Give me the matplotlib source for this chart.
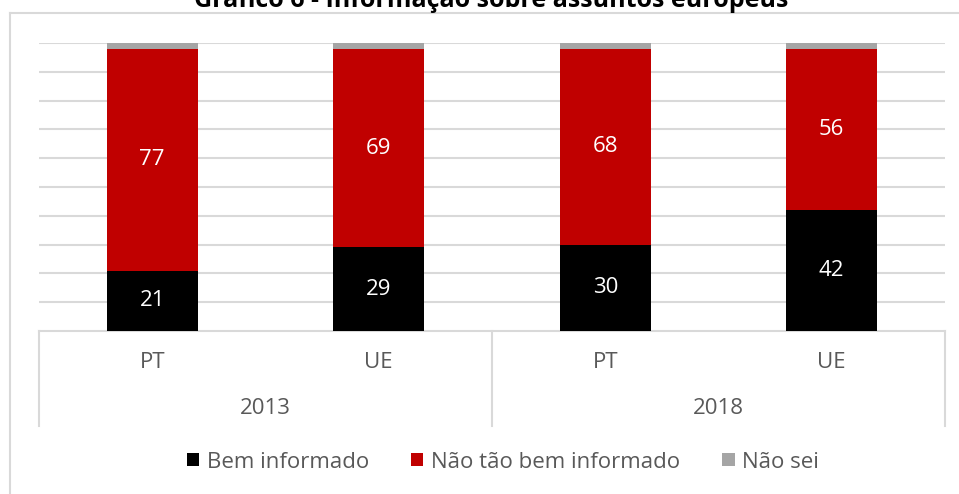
import matplotlib.pyplot as plt
import matplotlib.transforms as mtransforms
from matplotlib.lines import Line2D

plt.rcParams['font.family'] = ['Open Sans', 'DejaVu Sans']

# data
countries = ['PT', 'UE', 'PT', 'UE']
years = ['2013', '2018']
bem_informado = [21, 29, 30, 42]
nao_tao_bem = [77, 69, 68, 56]
nao_sei = [2, 2, 2, 2]
series_names = ['Bem informado', 'Não tão bem informado', 'Não sei']

colors = ['#000000', '#C00000', '#A5A5A5']
grid_c = '#D9D9D9'
text_c = '#595959'
fs = 16

W, H = 959, 494
fig = plt.figure(figsize=(W / 100, H / 100), dpi=100)
ax = fig.add_axes([39 / W, 1 - 331 / H, 906 / W, 288 / H])

x = list(range(len(countries)))
bottom2 = [a + b for a, b in zip(bem_informado, nao_tao_bem)]
b1 = ax.bar(x, bem_informado, width=0.4, color=colors[0], zorder=3, label=series_names[0])
b2 = ax.bar(x, nao_tao_bem, width=0.4, bottom=bem_informado, color=colors[1], zorder=3, label=series_names[1])
b3 = ax.bar(x, nao_sei, width=0.4, bottom=bottom2, color=colors[2], zorder=3, label=series_names[2])

for i in x:
    ax.text(i, bem_informado[i] / 2, str(bem_informado[i]), color='white',
            ha='center', va='center', fontsize=fs)
    ax.text(i, bem_informado[i] + nao_tao_bem[i] / 2, str(nao_tao_bem[i]), color='white',
            ha='center', va='center', fontsize=fs)

ax.set_xlim(-0.5, len(countries) - 0.5)
ax.set_ylim(0, 100)
ax.set_yticks(range(10, 101, 10))
ax.yaxis.grid(True, color=grid_c, linewidth=1.5)
ax.set_axisbelow(True)
ax.tick_params(left=False, bottom=False, labelleft=False, labelbottom=False)
for side in ['top', 'bottom', 'left', 'right']:
    ax.spines[side].set_visible(False)

# category axis box
depth = -(426 - 331) / 288
ax.plot([0, 1], [0, 0], color=grid_c, lw=1.5, transform=ax.transAxes, clip_on=False)
for xv in [0, 0.5, 1]:
    ax.plot([xv, xv], [0, depth], color=grid_c, lw=1.5, transform=ax.transAxes, clip_on=False)

trans = mtransforms.blended_transform_factory(ax.transData, ax.transAxes)
for i, c in enumerate(countries):
    ax.text(i, -31 / 288, c, transform=trans, ha='center', va='center', fontsize=fs, color=text_c)
for j, y in enumerate(years):
    ax.text(2 * j + 0.5, -77 / 288, y, transform=trans, ha='center', va='center', fontsize=fs, color=text_c)

# chart frame (left and top visible)
fig.add_artist(Line2D([10 / W, 10 / W], [0, 1 - 13 / H], color=grid_c, lw=1.5))
fig.add_artist(Line2D([10 / W, 1], [1 - 13 / H, 1 - 13 / H], color=grid_c, lw=1.5))

fig.text(491 / W, 1 - 7 / H, 'Gráfico 6 - Informação sobre assuntos europeus',
         ha='center', va='baseline', fontsize=18, fontweight='bold', color='black')

fig.legend(handles=[b1, b2, b3], loc='center', bbox_to_anchor=(503 / W, 1 - 462 / H),
           ncol=3, frameon=False, fontsize=fs, handlelength=0.55, handleheight=0.55,
           handletextpad=0.35, columnspacing=1.9, labelcolor=text_c)

fig.savefig('out.png', dpi=100, facecolor='white')
